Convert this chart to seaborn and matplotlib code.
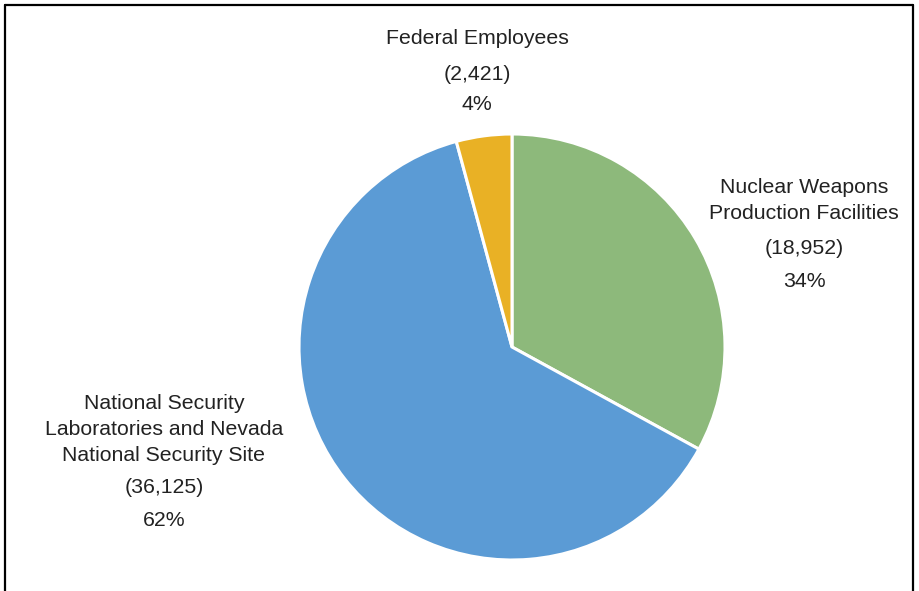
import matplotlib
matplotlib.use("Agg")
import matplotlib.pyplot as plt
import seaborn as sns
from matplotlib.lines import Line2D

# ---- data ----
categories = ["Nuclear Weapons\nProduction Facilities",
              "National Security\nLaboratories and Nevada\nNational Security Site",
              "Federal Employees"]
counts = [18952, 36125, 2421]
count_labels = ["(18,952)", "(36,125)", "(2,421)"]
pct_labels = ["34%", "62%", "4%"]
colors = ["#8DB97B", "#5B9BD5", "#E9B125"]

sns.set_theme(style="white")
plt.rcParams["font.family"] = ["Liberation Sans", "DejaVu Sans"]

W, H, DPI = 920, 591, 100
fig = plt.figure(figsize=(W / DPI, H / DPI), dpi=DPI)
fig.patch.set_facecolor("white")
ax = fig.add_axes([0, 0, 1, 1])

CX, CY, R = 512, 347, 213  # pie centre / radius in pixels


def px(x, y):
    return (x - CX) / R, (CY - y) / R


ax.pie(counts, colors=colors, startangle=90, counterclock=False, radius=1.0,
       wedgeprops=dict(edgecolor="white", linewidth=2.2))
ax.set_xlim(-CX / R, (W - CX) / R)
ax.set_ylim(-(H - CY) / R, CY / R)
ax.set_aspect("auto")
ax.axis("off")

fs = 15.3
tc = "#222222"

# label layout: (centre x px, baselines of name lines, count baseline, pct baseline)
layout = [
    (804, [193, 219], 254, 287),
    (164, [409, 435, 461], 493, 526),
    (477, [44], 80, 110),
]
for (cxp, name_bl, cnt_bl, pct_bl), name, cl, pl in zip(layout, categories, count_labels, pct_labels):
    for line, bl in zip(name.split("\n"), name_bl):
        ax.text(*px(cxp, bl), line, ha="center", va="baseline", fontsize=fs, color=tc)
    ax.text(*px(cxp, cnt_bl), cl, ha="center", va="baseline", fontsize=fs, color=tc)
    ax.text(*px(cxp, pct_bl), pl, ha="center", va="baseline", fontsize=fs, color=tc)

# frame lines (left, top, right) like the reference
lw = 1.6
fig.add_artist(Line2D([5 / W, 5 / W], [0, 1 - 5 / H], transform=fig.transFigure, color="black", lw=lw))
fig.add_artist(Line2D([5 / W, 913 / W], [1 - 5 / H, 1 - 5 / H], transform=fig.transFigure, color="black", lw=lw))
fig.add_artist(Line2D([913 / W, 913 / W], [0, 1 - 5 / H], transform=fig.transFigure, color="black", lw=lw))

fig.savefig("out.png", dpi=DPI, facecolor="white")
